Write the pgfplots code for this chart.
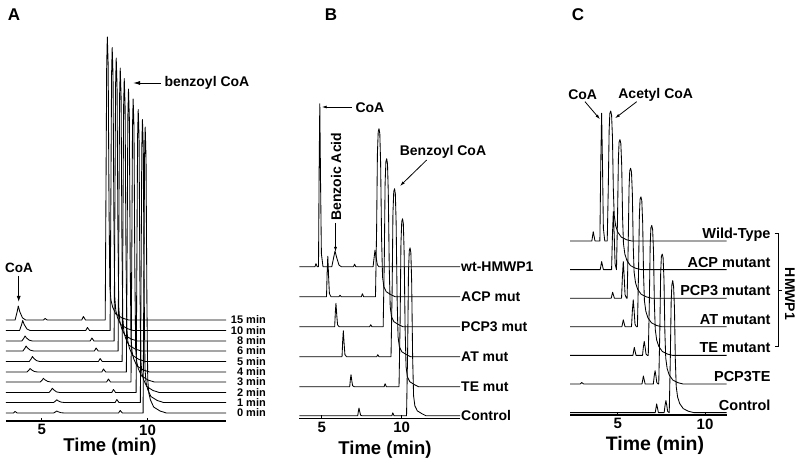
\documentclass[border=0pt]{standalone}
\usepackage{fontspec}
\setmainfont{Liberation Sans}
\usepackage{pgfplots}
\pgfplotsset{compat=1.18}
\usetikzlibrary{arrows.meta}
\newcommand{\fs}[1]{\fontsize{#1}{#1}\selectfont\bfseries}
\pgfplotsset{
  chrom/.style={scale only axis, clip=false, axis x line=bottom, axis y line=none,
    axis line style={-, line width=1.4pt}, x axis line style={-},
    xtick={5,10}, ytick=\empty, major tick length=3pt, tick align=inside,
    tick style={black, line width=0.8pt}, xticklabel style={font=\fs{15}},
    /pgf/number format/assume math mode=true, ymin=0, anchor=south west},
  tr/.style={black, line width=0.85pt, mark=none, line join=round}
}
\begin{document}
\begin{tikzpicture}
\path[use as bounding box] (0pt,0pt) rectangle (800pt,471pt);
% ---------------- Panel A ----------------
\begin{axis}[chrom, at={(6pt,50pt)}, width=220pt, height=400pt, xmin=3.31, xmax=13.71, ymax=400]
% 15 min
\addplot[tr] coordinates {(3.31,101)(3.74,101)(3.84,109.4)(3.89,115)(3.96,109.4)(4.09,103.1)(4.24,101)(5.08,101)(5.16,102.5)(5.26,101)(6.89,101)(6.97,104.5)(7.07,101)(8.00,101)(8.04,243)(8.07,356)(8.10,384)(8.14,356)(8.18,214)(8.22,135)(8.27,121)(8.35,114)(8.50,107)(8.80,103)(9.10,101)(13.71,101)};
% 10 min
\addplot[tr] coordinates {(3.31,90.5)(3.95,90.5)(4.05,96.5)(4.10,100.5)(4.17,96.5)(4.30,92)(4.45,90.5)(7.08,90.5)(7.16,93.5)(7.26,90.5)(8.23,90.5)(8.27,232.5)(8.30,345.5)(8.33,373.5)(8.37,345.5)(8.41,203.5)(8.45,124.5)(8.50,110.5)(8.58,103.5)(8.73,96.5)(9.03,92.5)(9.33,90.5)(13.71,90.5)};
% 8 min
\addplot[tr] coordinates {(3.31,80)(4.06,80)(4.16,83)(4.21,85)(4.28,83)(4.41,80.8)(4.56,80)(7.29,80)(7.37,83)(7.47,80)(8.42,80)(8.46,222)(8.49,335)(8.52,363)(8.56,335)(8.60,193)(8.64,114)(8.69,100)(8.77,93)(8.92,86)(9.22,82)(9.52,80)(13.71,80)};
% 6 min
\addplot[tr] coordinates {(3.31,70)(4.11,70)(4.21,73)(4.26,75)(4.33,73)(4.46,70.8)(4.61,70)(7.49,70)(7.57,73)(7.67,70)(8.61,70)(8.65,212)(8.68,325)(8.71,353)(8.75,325)(8.79,183)(8.83,104)(8.88,90)(8.96,83)(9.11,76)(9.41,72)(9.71,70)(13.71,70)};
% 5 min
\addplot[tr] coordinates {(3.31,59.5)(4.41,59.5)(4.51,62.5)(4.56,64.5)(4.63,62.5)(4.76,60.3)(4.91,59.5)(7.68,59.5)(7.76,62.5)(7.86,59.5)(8.80,59.5)(8.84,201.5)(8.87,314.5)(8.90,342.5)(8.94,314.5)(8.98,172.5)(9.02,93.5)(9.07,79.5)(9.15,72.5)(9.30,65.5)(9.60,61.5)(9.90,59.5)(13.71,59.5)};
% 4 min
\addplot[tr] coordinates {(3.31,49)(4.30,49)(4.40,51.1)(4.45,52.5)(4.52,51.1)(4.65,49.5)(4.80,49)(7.84,49)(7.92,52)(8.02,49)(9.00,49)(9.04,191)(9.07,304)(9.10,332)(9.14,304)(9.18,162)(9.22,83)(9.27,69)(9.35,62)(9.50,55)(9.80,51)(10.10,49)(13.71,49)};
% 3 min
\addplot[tr] coordinates {(3.31,39)(4.93,39)(5.03,41.2)(5.08,42.7)(5.15,41.2)(5.28,39.6)(5.43,39)(8.07,39)(8.15,42)(8.25,39)(9.22,39)(9.26,181)(9.29,294)(9.32,322)(9.36,294)(9.40,152)(9.44,73)(9.49,59)(9.57,52)(9.72,45)(10.02,41)(10.32,39)(13.71,39)};
% 2 min
\addplot[tr] coordinates {(3.31,28.5)(5.35,28.5)(5.45,31.1)(5.50,32.8)(5.57,31.1)(5.70,29.1)(5.85,28.5)(8.31,28.5)(8.39,31.5)(8.49,28.5)(9.46,28.5)(9.50,170.5)(9.53,283.5)(9.56,311.5)(9.60,283.5)(9.64,141.5)(9.68,62.5)(9.73,48.5)(9.81,41.5)(9.96,34.5)(10.26,30.5)(10.56,28.5)(13.71,28.5)};
% 1 min
\addplot[tr] coordinates {(3.31,18.5)(5.56,18.5)(5.66,20.1)(5.71,21.2)(5.78,20.1)(5.91,18.9)(6.06,18.5)(8.47,18.5)(8.55,21.5)(8.65,18.5)(9.66,18.5)(9.70,160.5)(9.73,273.5)(9.76,301.5)(9.80,273.5)(9.84,131.5)(9.88,52.5)(9.93,38.5)(10.01,31.5)(10.16,24.5)(10.46,20.5)(10.76,18.5)(13.71,18.5)};
% 0 min
\addplot[tr] coordinates {(3.31,8)(3.66,8)(3.74,9.5)(3.84,8)(5.56,8)(5.66,9.2)(5.71,10)(5.78,9.2)(5.91,8.3)(6.06,8)(8.63,8)(8.71,10.5)(8.81,8)(9.79,8)(9.83,150)(9.86,263)(9.89,294)(9.93,263)(9.97,121)(10.01,42)(10.06,28)(10.14,21)(10.29,14)(10.59,10)(10.89,8)(13.71,8)};
\end{axis}
% ---------------- Panel B ----------------
\begin{axis}[chrom, at={(299.3pt,52.7pt)}, width=160.7pt, height=330pt, xmin=3.6, xmax=13.64, ymax=330]
% wt-HMWP1
\addplot[tr] coordinates {(3.60,151.6)(4.58,151.6)(4.64,154.6)(4.72,151.6)(4.80,151.6)(4.84,249.4)(4.88,314.6)(4.93,233.1)(4.98,164.6)(5.08,151.6)(5.63,151.6)(5.75,161)(5.83,167.3)(5.93,161)(6.08,153.2)(6.23,151.6)(6.99,151.6)(7.05,154.1)(7.13,151.6)(8.21,151.6)(8.28,161.6)(8.33,168.3)(8.39,161.6)(8.48,153.3)(8.58,151.6)(13.64,151.6)};
% ACP mut
\addplot[tr] coordinates {(3.60,121.6)(5.30,121.6)(5.34,145.9)(5.38,162.1)(5.43,141.9)(5.48,124.8)(5.58,121.6)(6.08,121.6)(6.14,123.1)(6.22,121.6)(7.48,121.6)(7.54,124.6)(7.62,121.6)(8.36,121.6)(8.43,188.6)(8.48,264.6)(8.53,286.6)(8.58,289.6)(8.63,284.6)(8.68,255.6)(8.74,180.6)(8.80,141.6)(8.88,131.6)(9.03,126.6)(9.33,123.6)(9.58,121.6)(13.64,121.6)};
% PCP3 mut
\addplot[tr] coordinates {(3.60,91.6)(5.81,91.6)(5.85,105.6)(5.89,115)(5.94,103.3)(5.99,93.5)(6.09,91.6)(8.00,91.6)(8.06,93.6)(8.14,91.6)(8.84,91.6)(8.91,158.6)(8.96,234.6)(9.01,256.6)(9.06,259.6)(9.11,254.6)(9.16,225.6)(9.22,150.6)(9.28,111.6)(9.36,101.6)(9.51,96.6)(9.81,93.6)(10.06,91.6)(13.64,91.6)};
% AT mut
\addplot[tr] coordinates {(3.60,61.6)(6.27,61.6)(6.31,77.2)(6.35,87.6)(6.40,74.6)(6.45,63.7)(6.55,61.6)(8.44,61.6)(8.50,63.6)(8.58,61.6)(9.33,61.6)(9.40,128.6)(9.45,204.6)(9.50,226.6)(9.55,229.6)(9.60,224.6)(9.65,195.6)(9.71,120.6)(9.77,81.6)(9.85,71.6)(10.00,66.6)(10.30,63.6)(10.55,61.6)(13.64,61.6)};
% TE mut
\addplot[tr] coordinates {(3.60,31.6)(6.75,31.6)(6.79,38.8)(6.83,43.6)(6.88,37.6)(6.93,32.6)(7.03,31.6)(8.90,31.6)(8.96,34.6)(9.04,31.6)(9.83,31.6)(9.90,98.6)(9.95,174.6)(10.00,196.6)(10.05,199.6)(10.10,194.6)(10.15,165.6)(10.21,90.6)(10.27,51.6)(10.35,41.6)(10.50,36.6)(10.80,33.6)(11.05,31.6)(13.64,31.6)};
% Control
\addplot[tr] coordinates {(3.60,2.5)(7.25,2.5)(7.29,7.1)(7.33,10.2)(7.38,6.4)(7.43,3.1)(7.53,2.5)(9.38,2.5)(9.44,5.5)(9.52,2.5)(10.30,2.5)(10.37,69.5)(10.42,145.5)(10.47,167.5)(10.52,170.5)(10.57,165.5)(10.62,136.5)(10.68,61.5)(10.74,22.5)(10.82,12.5)(10.97,7.5)(11.27,4.5)(11.52,2.5)(13.64,2.5)};
\end{axis}
% ---------------- Panel C ----------------
\begin{axis}[chrom, at={(570pt,56pt)}, width=156.7pt, height=320pt, xmin=2.27, xmax=11.24, ymax=320]
% Wild-Type
\addplot[tr] coordinates {(2.27,174)(3.52,174)(3.60,183.3)(3.70,174)(3.98,174)(4.03,250.6)(4.08,301.7)(4.13,250.6)(4.18,186.8)(4.26,174)(4.40,174)(4.46,226)(4.51,284.5)(4.55,301.5)(4.60,304)(4.65,300)(4.70,278)(4.75,226)(4.80,200)(4.88,189.5)(5.00,183)(5.20,178)(5.50,175.3)(5.80,174)(11.24,174)};
% ACP mutant
\addplot[tr] coordinates {(2.27,145.4)(4.00,145.4)(4.08,153.4)(4.18,145.4)(4.65,145.4)(4.70,180.2)(4.75,203.4)(4.80,180.2)(4.85,151.2)(4.93,145.4)(4.99,197.4)(5.04,255.9)(5.08,272.9)(5.13,275.4)(5.18,271.4)(5.23,249.4)(5.28,197.4)(5.33,171.4)(5.41,160.9)(5.53,154.4)(5.73,149.4)(6.03,146.7)(6.33,145.4)(11.24,145.4)};
% PCP3 mutant
\addplot[tr] coordinates {(2.27,116.8)(4.63,116.8)(4.71,122.8)(4.81,116.8)(5.22,116.8)(5.27,138.8)(5.32,153.5)(5.37,138.8)(5.42,120.5)(5.50,116.8)(5.54,116.8)(5.60,168.8)(5.65,227.3)(5.69,244.3)(5.74,246.8)(5.79,242.8)(5.84,220.8)(5.89,168.8)(5.94,142.8)(6.02,132.3)(6.14,125.8)(6.34,120.8)(6.64,118.1)(6.94,116.8)(11.24,116.8)};
% AT mutant
\addplot[tr] coordinates {(2.27,88.2)(5.24,88.2)(5.32,95.2)(5.42,88.2)(5.79,88.2)(5.84,104.4)(5.89,115.2)(5.94,104.4)(5.99,90.9)(6.07,88.2)(6.13,88.2)(6.19,140.2)(6.24,198.7)(6.28,215.7)(6.33,218.2)(6.38,214.2)(6.43,192.2)(6.48,140.2)(6.53,114.2)(6.61,103.7)(6.73,97.2)(6.93,92.2)(7.23,89.5)(7.53,88.2)(11.24,88.2)};
% TE mutant
\addplot[tr] coordinates {(2.27,59.6)(5.87,59.6)(5.95,67.6)(6.05,59.6)(6.42,59.6)(6.47,68)(6.52,73.6)(6.57,68)(6.62,61)(6.70,59.6)(6.75,59.6)(6.81,111.6)(6.86,170.1)(6.90,187.1)(6.95,189.6)(7.00,185.6)(7.05,163.6)(7.10,111.6)(7.15,85.6)(7.23,75.1)(7.35,68.6)(7.55,63.6)(7.85,60.9)(8.15,59.6)(11.24,59.6)};
% PCP3TE
\addplot[tr] coordinates {(2.27,31)(2.85,31)(2.94,32.5)(3.05,31)(6.39,31)(6.47,39)(6.57,31)(7.04,31)(7.09,39)(7.14,44.3)(7.19,39)(7.24,32.3)(7.32,31)(7.35,31)(7.41,83)(7.46,141.5)(7.50,158.5)(7.55,161)(7.60,157)(7.65,135)(7.70,83)(7.75,57)(7.83,46.5)(7.95,40)(8.15,35)(8.45,32.3)(8.75,31)(11.24,31)};
% Control
\addplot[tr] coordinates {(2.27,2.4)(7.15,2.4)(7.23,11.1)(7.33,2.4)(7.66,2.4)(7.71,9.6)(7.76,14.4)(7.81,9.6)(7.86,3.6)(7.94,2.4)(7.95,2.4)(8.01,54.4)(8.06,112.9)(8.10,129.9)(8.15,134.4)(8.20,128.4)(8.25,106.4)(8.30,54.4)(8.35,28.4)(8.43,17.9)(8.55,11.4)(8.75,6.4)(9.05,3.7)(9.35,2.4)(11.24,2.4)};
\end{axis}
% ---------------- Annotations ----------------
\begin{scope}[x=1pt,y=1pt]
% panel letters
\node[font=\fs{17}] at (14,456) {A};
\node[font=\fs{17}] at (331,456) {B};
\node[font=\fs{17}] at (578,456) {C};
% axis titles
\node[font=\fs{18.5}] at (110,24) {Time (min)};
\node[font=\fs{18.5}] at (385,21) {Time (min)};
\node[font=\fs{19.5}] at (655,26) {Time (min)};
% panel A
\node[font=\fs{13.5}] at (19,203) {CoA};
\draw[line width=0.9pt, -{Latex[length=6pt,width=4pt]}] (18.7,195) -- (18.7,169);
\node[font=\fs{14}, anchor=west] at (161,388) {benzoyl CoA};
\draw[line width=0.9pt, -{Latex[length=7pt,width=4pt]}] (161,388) -- (133,388);
\foreach \lab/\yy in {15 min/151, 10 min/140.7, 8 min/130.3, 6 min/120, 5 min/109.7, 4 min/99.3, 3 min/89, 2 min/78.7, 1 min/68.3, 0 min/58}
  \node[font=\fs{11}, anchor=east, inner sep=0pt] at (266,\yy) {\lab};
% panel B
\node[font=\fs{14}, anchor=west] at (352,363) {CoA};
\draw[line width=0.8pt, -{Latex[length=5pt,width=3pt]}] (352,364) -- (321.7,364);
\node[font=\fs{14}, rotate=90] at (336,294.3) {Benzoic Acid};
\draw[line width=0.8pt, -{Latex[length=5pt,width=3pt]}] (335.5,248) -- (335.5,219);
\node[font=\fs{14}] at (443,319.3) {Benzoyl CoA};
\draw[line width=0.8pt, -{Latex[length=5pt,width=3pt]}] (426.7,311) -- (400,285);
\foreach \lab/\yy in {wt-HMWP1/204.3, ACP mut/174.3, PCP3 mut/144.3, AT mut/114.3, TE mut/84.3, Control/55.2}
  \node[font=\fs{14}, anchor=west, inner sep=0pt] at (461,\yy) {\lab};
% panel C
\node[font=\fs{14}] at (582.7,376) {CoA};
\draw[line width=0.8pt, -{Latex[length=5pt,width=3pt]}] (585,369.3) -- (600,351.7);
\node[font=\fs{14}] at (655.7,376) {Acetyl CoA};
\draw[line width=0.8pt, -{Latex[length=5pt,width=3pt]}] (636.7,369.3) -- (615,352.7);
\foreach \lab/\yy in {Wild-Type/232.5, ACP mutant/203.9, PCP3 mutant/175.3, AT mutant/146.7, TE mutant/118.1, PCP3TE/89.5, Control/60.9}
  \node[font=\fs{14.5}, anchor=base east, inner sep=0pt] at (770.7,\yy) {\lab};
\draw[line width=0.8pt] (774.5,237.7) -- (778.3,237.7) -- (778.3,125) -- (774.5,125);
\draw[line width=0.8pt] (778.3,180.3) -- (781.5,180.3);
\node[font=\fs{14}, rotate=-90] at (790,177) {HMWP1};
\end{scope}
\end{tikzpicture}
\end{document}
